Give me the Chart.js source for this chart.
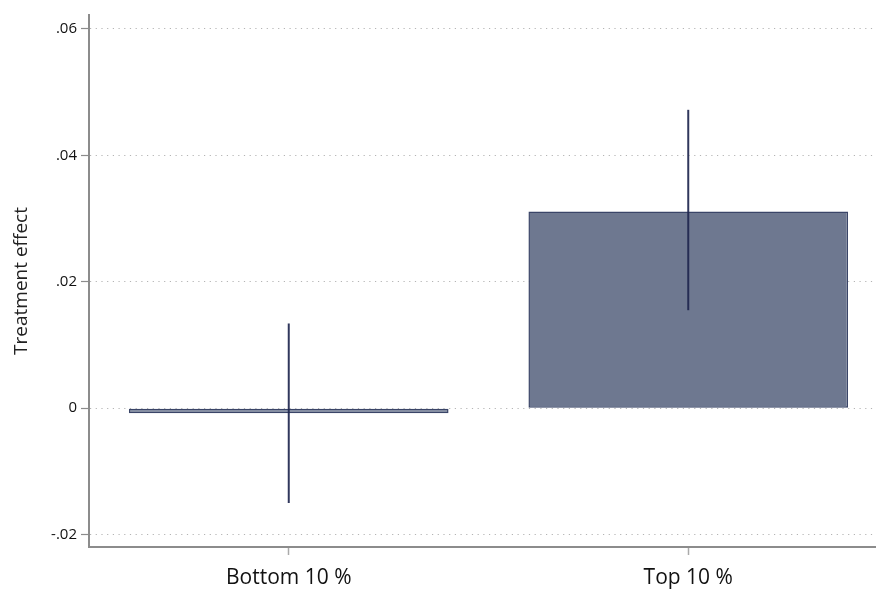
<!DOCTYPE html>
<html>
<head>
<meta charset="utf-8">
<script src="https://cdn.jsdelivr.net/npm/chart.js@4"></script>
<style>
  html, body { margin: 0; padding: 0; background: #fff; overflow: hidden; }
  #wrap { width: 888px; height: 589px; position: relative; }
</style>
</head>
<body>
<div id="wrap"><canvas id="effectChart"></canvas></div>
<script>
// data
var categories = ['Bottom 10 %', 'Top 10 %'];
var effects = [-0.0008, 0.0311];
var ciLow = [-0.0150, 0.0155];
var ciHigh = [0.0134, 0.0472];
var yTicks = [-0.02, 0, 0.02, 0.04, 0.06];
var yTickLabels = ['-.02', '0', '.02', '.04', '.06'];

var fontFamily = '"Open Sans", "DejaVu Sans", sans-serif';

// Error bars drawn over the bars
var errorBars = {
    id: 'errorBars',
    afterDatasetsDraw: function(chart) {
        var ctx = chart.ctx;
        var x = chart.scales.x;
        var y = chart.scales.y;
        ctx.save();
        ctx.strokeStyle = 'rgba(30, 38, 78, 0.92)';
        ctx.lineWidth = 2;
        for (var i = 0; i < categories.length; i++) {
            var px = x.getPixelForValue(i);
            ctx.beginPath();
            ctx.moveTo(px, y.getPixelForValue(ciLow[i]));
            ctx.lineTo(px, y.getPixelForValue(ciHigh[i]));
            ctx.stroke();
        }
        ctx.restore();
    }
};

var effectCtx = document.getElementById('effectChart').getContext('2d');
var effectChart = new Chart(effectCtx, {
    type: 'bar',
    data: {
        labels: categories,
        datasets: [{
            data: effects,
            backgroundColor: '#6e7890',
            borderColor: '#3a4568',
            borderWidth: 1.5,
            borderSkipped: false,
            barPercentage: 0.8,
            categoryPercentage: 1
        }]
    },
    options: {
        responsive: true,
        maintainAspectRatio: false,
        animation: false,
        layout: { padding: { top: 15, right: 0, left: 0, bottom: 0 } },
        plugins: {
            legend: { display: false },
            tooltip: { enabled: false }
        },
        scales: {
            x: {
                offset: true,
                grid: {
                    offset: false,
                    drawOnChartArea: false,
                    tickLength: 8,
                    tickColor: '#aaaaaa',
                    tickWidth: 1.5
                },
                border: { color: '#8c8c8c', width: 2 },
                ticks: {
                    color: '#111',
                    padding: 10,
                    font: { family: fontFamily, size: 21 }
                },
                afterFit: function(scale) { scale.height = 42; }
            },
            y: {
                min: -0.02196,
                max: 0.0622,
                afterBuildTicks: function(scale) {
                    scale.ticks = yTicks.map(function(v) { return { value: v }; });
                },
                grid: {
                    color: '#b4b4b4',
                    lineWidth: 1,
                    tickLength: 8,
                    tickColor: '#8c8c8c',
                    tickWidth: 1.2,
                    tickBorderDash: []
                },
                border: { color: '#8c8c8c', width: 2, dash: [1.2, 4.5] },
                ticks: {
                    color: '#111',
                    padding: 4,
                    font: { family: fontFamily, size: 15 },
                    callback: function(value) {
                        var idx = yTicks.indexOf(value);
                        return idx >= 0 ? yTickLabels[idx] : '';
                    }
                },
                title: {
                    display: true,
                    text: 'Treatment effect',
                    color: '#222',
                    font: { family: fontFamily, size: 19 },
                    padding: { top: 10, bottom: 0 }
                },
                afterFit: function(scale) { scale.width = 89; }
            }
        }
    },
    plugins: [errorBars]
});
</script>
</body>
</html>
